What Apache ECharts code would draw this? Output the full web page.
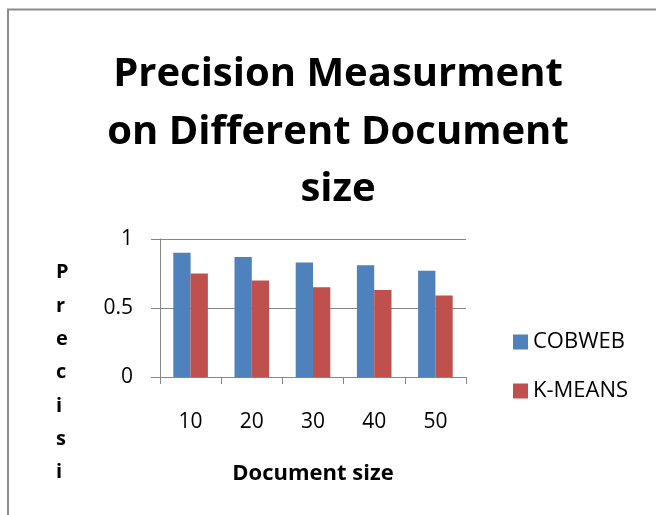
<!DOCTYPE html>
<html>
<head>
<meta charset="utf-8">
<script src="https://cdn.jsdelivr.net/npm/echarts@6/dist/echarts.min.js"></script>
<style>
  html, body { margin: 0; padding: 0; background: #ffffff; }
  #chart { width: 656px; height: 515px; }
</style>
</head>
<body>
<div id="chart"></div>
<script>
// Document sizes on the category axis
const documentSizes = ['10', '20', '30', '40', '50'];
// Precision for each clustering method
const cobwebPrecision = [0.90, 0.87, 0.83, 0.81, 0.77];
const kmeansPrecision = [0.75, 0.70, 0.65, 0.63, 0.59];
const seriesNames = ['COBWEB', 'K-MEANS'];

const FONT = '"Open Sans", "Noto Sans", sans-serif';
const GRAY = '#868686';

const chart = echarts.init(document.getElementById('chart'), null, { renderer: 'canvas' });

chart.setOption({
  backgroundColor: '#ffffff',
  animation: false,
  title: {
    text: 'Precision Measurment\non Different Document\nsize',
    left: 333,
    top: 41,
    textAlign: 'center',
    textStyle: {
      fontFamily: FONT,
      fontWeight: 'bold',
      fontSize: 40,
      lineHeight: 57.5,
      color: '#000000'
    }
  },
  legend: {
    orient: 'vertical',
    left: 508,
    top: 326,
    itemWidth: 15,
    itemHeight: 15,
    itemGap: 27,
    icon: 'rect',
    data: seriesNames,
    textStyle: {
      fontFamily: FONT,
      fontSize: 22,
      lineHeight: 22,
      color: '#000000'
    }
  },
  grid: {
    left: 160,
    right: 190,
    top: 239,
    bottom: 138,
    containLabel: false
  },
  xAxis: {
    type: 'category',
    data: documentSizes,
    name: 'Document size',
    nameLocation: 'middle',
    nameGap: 86,
    nameTextStyle: {
      fontFamily: FONT,
      fontWeight: 'bold',
      fontSize: 22,
      color: '#000000'
    },
    axisLine: { lineStyle: { color: GRAY, width: 1 } },
    axisTick: { show: true, length: 7, lineStyle: { color: GRAY } },
    axisLabel: {
      margin: 35,
      fontFamily: FONT,
      fontSize: 21,
      color: '#000000'
    },
    splitLine: { show: false }
  },
  yAxis: {
    type: 'value',
    min: 0,
    max: 1,
    interval: 0.5,
    axisLine: { show: true, lineStyle: { color: GRAY, width: 1 } },
    axisTick: { show: true, length: 9, lineStyle: { color: GRAY } },
    axisLabel: {
      margin: 27,
      fontFamily: FONT,
      fontSize: 21,
      color: '#000000'
    },
    splitLine: { show: true, lineStyle: { color: GRAY, width: 1 } }
  },
  graphic: [
    {
      type: 'rect',
      silent: true,
      shape: { x: 8, y: 9.5, width: 800, height: 700 },
      style: { fill: 'none', stroke: '#8c8c8c', lineWidth: 2 }
    },
    {
      // vertical axis title, one letter per line
      type: 'text',
      silent: true,
      left: 56,
      top: 256,
      style: {
        text: 'P\nr\ne\nc\ni\ns\ni',
        fontFamily: FONT,
        fontWeight: 'bold',
        fontSize: 20,
        lineHeight: 33.3,
        fill: '#000000',
        align: 'center'
      }
    }
  ],
  series: [
    {
      name: seriesNames[0],
      type: 'bar',
      data: cobwebPrecision,
      barGap: '0%',
      barCategoryGap: '43.5%',
      itemStyle: { color: '#4F81BD' }
    },
    {
      name: seriesNames[1],
      type: 'bar',
      data: kmeansPrecision,
      barGap: '0%',
      barCategoryGap: '43.5%',
      itemStyle: { color: '#C0504D' }
    }
  ]
});
</script>
</body>
</html>
